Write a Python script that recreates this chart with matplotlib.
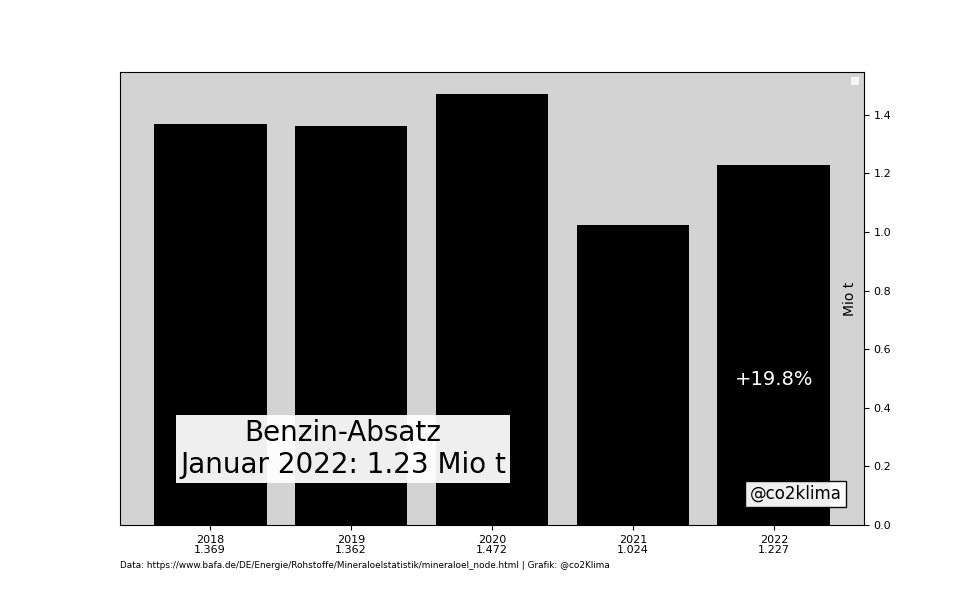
import matplotlib.pyplot as plt

years = ["2018", "2019", "2020", "2021", "2022"]
sales = [1.369, 1.362, 1.472, 1.024, 1.227]  # Mio t, January
change_label = "+19.8%"
title_text = "Benzin-Absatz\nJanuar 2022: 1.23 Mio t"
source_text = "Data: https://www.bafa.de/DE/Energie/Rohstoffe/Mineraloelstatistik/mineraloel_node.html | Grafik: @co2Klima"

fig = plt.figure(figsize=(9.6, 6), dpi=100)
ax = fig.add_axes([0.125, 0.125, 0.775, 0.755])
ax.set_facecolor("lightgrey")

x = list(range(len(years)))
ax.bar(x, sales, width=0.8, color="black")

# Ticks
ax.set_xticks(x)
ax.set_xticklabels([f"{y}\n{v:.3f}" for y, v in zip(years, sales)], fontsize=8, linespacing=1.0)
ax.tick_params(axis="y", labelsize=8)
ax.yaxis.tick_right()
ax.set_ylabel("Mio t", fontsize=10)
ax.yaxis.set_label_coords(0.99, 0.5)

# Annotations
ax.text(x[-1], 0.495, change_label, color="white", fontsize=14, ha="center", va="center")
ax.text(0.3, 0.168, title_text, transform=ax.transAxes, fontsize=20, ha="center", va="center",
        linespacing=1.2, bbox=dict(facecolor="white", alpha=0.94, edgecolor="none", pad=3))
ax.text(0.908, 0.068, "@co2klima", transform=ax.transAxes, fontsize=12, ha="center", va="center",
        bbox=dict(facecolor="white", alpha=0.94, edgecolor="black", pad=3))
ax.legend(handles=[], loc="upper right", fancybox=False, edgecolor="none", fontsize=7)

fig.text(0.125, 0.058, source_text, fontsize=6.4, ha="left", va="center")

plt.savefig("out.png", dpi=100)
